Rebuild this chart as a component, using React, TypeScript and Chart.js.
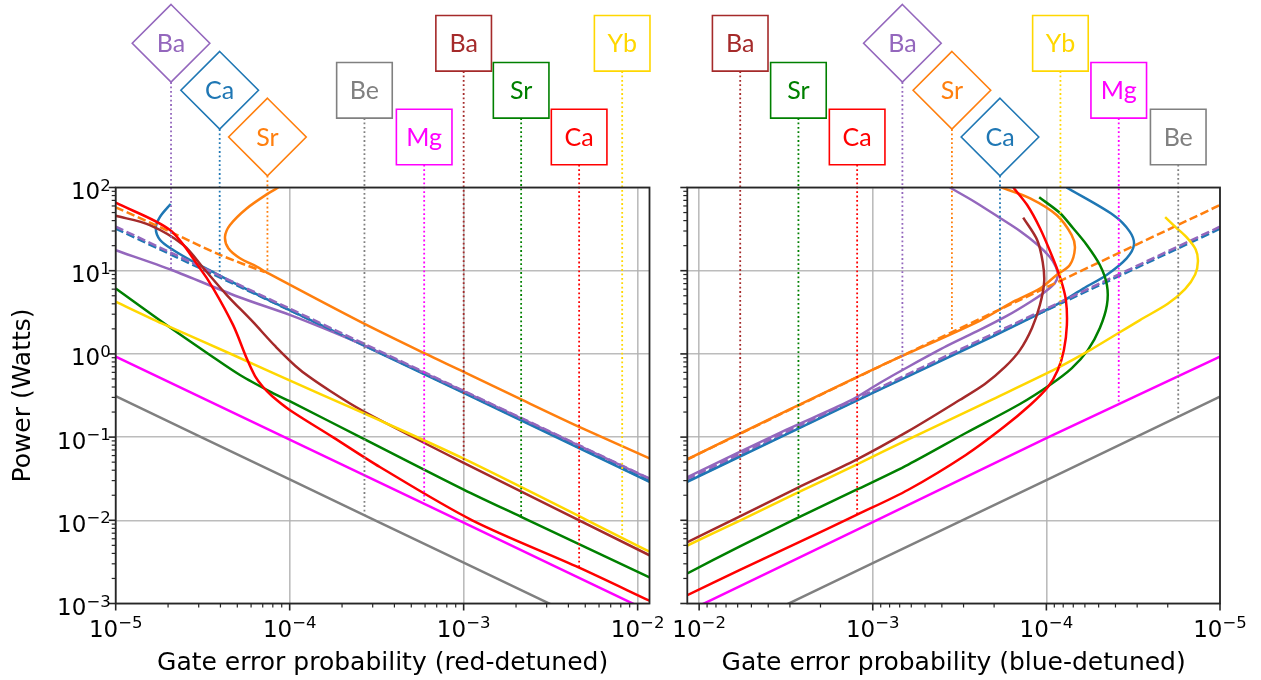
import React, { useEffect, useRef } from 'react';
import { Chart, registerables } from 'chart.js';

Chart.register(...registerables);
Chart.defaults.font.family = "'DejaVu Sans', sans-serif";

type Pt = [number, number];

// ---------- axes ----------
const X_MIN = 1e-5;
const X_MAX = 1.17e-2;
const Y_MIN = 1e-3;
const Y_MAX = 1e2;
const X_TICK_EXPONENTS = [-5, -4, -3, -2];
const Y_TICK_EXPONENTS = [-3, -2, -1, 0, 1, 2];

// ---------- red-detuned (left) series: [gate error, power W] ----------
const RED_BE: Pt[] = [[1e-5, 0.31], [1e-4, 0.031], [1e-3, 0.0031], [1.17e-2, 0.000265]];
const RED_MG: Pt[] = [[1e-5, 0.925], [1e-4, 0.093], [1e-3, 0.0094], [1.17e-2, 0.0008]];
const RED_SR_SQ: Pt[] = [[1e-5, 6.1], [1.96e-5, 2.22], [3.48e-5, 0.97], [5.18e-5, 0.557], [8.05e-5, 0.336], [1e-4, 0.27], [2.7e-4, 0.094], [1e-3, 0.0234], [2.14e-3, 0.011], [1.17e-2, 0.00206]];
const RED_YB: Pt[] = [[1e-5, 4.24], [1.84e-5, 2.33], [4.74e-5, 0.97], [8.8e-5, 0.54], [2.64e-4, 0.195], [1e-3, 0.055], [1.17e-2, 0.0042]];
const RED_BA_SQ: Pt[] = [[1e-5, 45.8], [1.57e-5, 35.4], [2.45e-5, 20.4], [3.26e-5, 10.2], [4.35e-5, 5.1], [6.15e-5, 2.42], [8.24e-5, 1.245], [1.15e-4, 0.64], [1.71e-4, 0.358], [2.64e-4, 0.206], [1e-3, 0.049], [1.17e-2, 0.0038]];
const RED_CA_SQ: Pt[] = [[1e-5, 65.6], [2.05e-5, 30.8], [3.05e-5, 10.7], [3.64e-5, 6.1], [4.74e-5, 2.2], [5.66e-5, 0.885], [6.32e-5, 0.542], [7.03e-5, 0.4], [7.91e-5, 0.312], [1e-4, 0.212], [1.77e-4, 0.1], [3.3e-4, 0.0437], [1.12e-3, 0.01], [4.61e-3, 0.0027], [1.17e-2, 0.00108]];
const RED_BA_DI: Pt[] = [[1e-5, 17.6], [2.1e-5, 10.2], [5e-5, 4.9], [1e-4, 2.95], [1.6e-4, 2.0], [2.6e-4, 1.3], [1e-3, 0.355], [1.17e-2, 0.0315]];
const RED_BA_DASH: Pt[] = [[1e-5, 33.8], [1e-4, 3.5], [1e-3, 0.36], [1.17e-2, 0.0318]];
const RED_CA_DASH: Pt[] = [[1e-5, 32.0], [1e-4, 3.35], [1e-3, 0.345], [1.17e-2, 0.0295]];
const RED_CA_DI: Pt[] = [[2.07e-5, 63.4], [1.8e-5, 44.6], [1.7e-5, 32.4], [1.8e-5, 23.4], [2.14e-5, 17.7], [2.79e-5, 12.8], [3.48e-5, 10.1], [4.5e-5, 7.6], [1e-4, 3.35], [1e-3, 0.34], [1.17e-2, 0.029]];
const RED_SR_DI: Pt[] = [[8.6e-5, 100], [7.53e-5, 85], [5.66e-5, 56], [4.54e-5, 35.4], [4.25e-5, 25.6], [4.44e-5, 18.6], [5.18e-5, 14.1], [6.46e-5, 11.2], [7.53e-5, 9.3], [2.54e-4, 2.44], [5.93e-4, 1.02], [1e-3, 0.61], [2.14e-3, 0.284], [4.61e-3, 0.133], [1.17e-2, 0.0556]];
const RED_SR_DASH: Pt[] = [[1e-5, 57.8], [2.05e-5, 29.5], [3.98e-5, 15.5], [7.2e-5, 9.6]];

// ---------- blue-detuned (right) series ----------
const BLUE_BE: Pt[] = [[1.17e-2, 0.00026], [1e-3, 0.00305], [1e-4, 0.0305], [1e-5, 0.306]];
const BLUE_MG: Pt[] = [[1.17e-2, 0.0008], [1e-3, 0.0095], [1e-4, 0.097], [1e-5, 0.925]];
const BLUE_CA_SQ: Pt[] = [[1.17e-2, 0.00126], [5.86e-3, 0.00252], [2.73e-3, 0.0053], [1.24e-3, 0.0116], [6.24e-4, 0.0233], [2.91e-4, 0.061], [1.76e-4, 0.132], [1.24e-4, 0.243], [9.8e-5, 0.4], [8.59e-5, 0.641], [7.93e-5, 1.11], [7.62e-5, 2.22], [7.72e-5, 4.45], [8.24e-5, 7.73], [9.18e-5, 14.2], [1.09e-4, 32.6], [1.29e-4, 61.6], [1.55e-4, 100]];
const BLUE_SR_SQ: Pt[] = [[1.17e-2, 0.0023], [5.86e-3, 0.00483], [2.73e-3, 0.0106], [1.24e-3, 0.0233], [6.24e-4, 0.0468], [2.91e-4, 0.112], [1.42e-4, 0.25], [9.55e-5, 0.423], [7.13e-5, 0.676], [5.77e-5, 1.11], [4.92e-5, 2.05], [4.48e-5, 3.87], [4.48e-5, 6.73], [4.92e-5, 11.7], [5.85e-5, 20.4], [7.03e-5, 32.6], [8.36e-5, 49.4], [1.1e-4, 76.2]];
const BLUE_YB: Pt[] = [[1.17e-2, 0.00497], [5.86e-3, 0.00986], [2.73e-3, 0.0213], [1.24e-3, 0.0468], [6.24e-4, 0.0937], [2.04e-4, 0.285], [8.73e-5, 0.67], [5.61e-5, 1.11], [2.89e-5, 2.55], [2.0e-5, 4.0], [1.59e-5, 6.0], [1.39e-5, 9.0], [1.34e-5, 13], [1.38e-5, 18], [1.55e-5, 25], [1.79e-5, 33], [2.07e-5, 44]];
const BLUE_BA_SQ: Pt[] = [[1.17e-2, 0.00545], [5.86e-3, 0.0111], [2.73e-3, 0.0244], [1.24e-3, 0.0537], [6.24e-4, 0.118], [3.16e-4, 0.279], [2.26e-4, 0.435], [1.73e-4, 0.697], [1.42e-4, 1.11], [1.21e-4, 2.05], [1.09e-4, 3.87], [1.03e-4, 7.3], [1.05e-4, 12.7], [1.13e-4, 23.4], [1.36e-4, 43.4]];
const BLUE_BA_DI: Pt[] = [[1.17e-2, 0.033], [3.16e-3, 0.122], [1.36e-3, 0.272], [9.12e-4, 0.447], [6.12e-4, 0.715], [3.74e-4, 1.245], [2.42e-4, 1.94], [1.69e-4, 2.86], [1.24e-4, 4.21], [1.02e-4, 5.55], [8.93e-5, 7.1], [8.59e-5, 8.87], [8.81e-5, 11.1], [9.55e-5, 14.6], [1.12e-4, 20.4], [1.42e-4, 30], [1.85e-4, 43], [2.58e-4, 67], [3.6e-4, 100]];
const BLUE_BA_DASH: Pt[] = [[1.17e-2, 0.0315], [1e-3, 0.36], [1e-4, 3.5], [1e-5, 33.8]];
const BLUE_CA_DASH: Pt[] = [[1.17e-2, 0.0295], [1e-3, 0.345], [1e-4, 3.35], [1e-5, 32.0]];
const BLUE_CA_DI: Pt[] = [[1.17e-2, 0.029], [1e-3, 0.34], [2e-4, 1.65], [8.36e-5, 4.1], [6.13e-5, 6.1], [4.5e-5, 8.9], [3.45e-5, 14.1], [3.13e-5, 20.4], [3.31e-5, 29.5], [4.12e-5, 46.7], [7.66e-5, 100]];
const BLUE_SR_DI: Pt[] = [[1.17e-2, 0.054], [3.16e-3, 0.205], [9.12e-4, 0.71], [2.42e-4, 2.5], [1.55e-4, 4.25], [1.09e-4, 6.1], [8.73e-5, 8.9], [7.33e-5, 11.7], [6.85e-5, 18.6], [7.16e-5, 26.9], [8.73e-5, 46.7], [1.24e-4, 74], [1.81e-4, 100]];
const BLUE_SR_DASH: Pt[] = [[1.17e-2, 0.054], [1e-3, 0.645], [1e-4, 6.3], [1e-5, 61.6]];

// ---------- annotation labels ----------
const LEFT_LABELS = ['Ba', 'Ca', 'Sr', 'Be', 'Mg', 'Ba', 'Sr', 'Ca', 'Yb'];
const LEFT_LABEL_EPS = [2.08e-5, 3.96e-5, 7.45e-5, 2.69e-4, 5.93e-4, 1.0e-3, 2.14e-3, 4.61e-3, 8.15e-3];
const LEFT_LABEL_P = [10.5, 8.8, 9.1, 0.0116, 0.0156, 0.049, 0.011, 0.0027, 0.0063];
const LEFT_LABEL_SHAPE = ['diamond', 'diamond', 'diamond', 'square', 'square', 'square', 'square', 'square', 'square'];
const LEFT_LABEL_ROW = [0, 1, 2, 1, 2, 0, 1, 2, 0];

const RIGHT_LABELS = ['Ba', 'Sr', 'Ca', 'Ba', 'Sr', 'Ca', 'Yb', 'Mg', 'Be'];
const RIGHT_LABEL_EPS = [5.8e-3, 2.68e-3, 1.23e-3, 6.75e-4, 3.5e-4, 1.85e-4, 8.3e-5, 3.83e-5, 1.74e-5];
const RIGHT_LABEL_P = [0.011, 0.0106, 0.0116, 0.64, 1.9, 2.0, 0.7, 0.245, 0.178];
const RIGHT_LABEL_SHAPE = ['square', 'square', 'square', 'diamond', 'diamond', 'diamond', 'square', 'square', 'square'];
const RIGHT_LABEL_ROW = [0, 1, 2, 0, 1, 2, 0, 1, 2];

// ---------- styles / layout ----------
const COLORS: Record<string, string> = {
  Be: '#808080', Mg: '#ff00ff', BaSq: '#a52a2a', SrSq: '#008000', CaSq: '#ff0000', Yb: '#ffd700',
  BaDi: '#9467bd', CaDi: '#1f77b4', SrDi: '#ff7f0e',
};
const LEFT_LABEL_COLORS = [COLORS.BaDi, COLORS.CaDi, COLORS.SrDi, COLORS.Be, COLORS.Mg, COLORS.BaSq, COLORS.SrSq, COLORS.CaSq, COLORS.Yb];
const RIGHT_LABEL_COLORS = [COLORS.BaSq, COLORS.SrSq, COLORS.CaSq, COLORS.BaDi, COLORS.SrDi, COLORS.CaDi, COLORS.Yb, COLORS.Mg, COLORS.Be];

const W = 1261;
const H = 680;
const PLOT_TOP = 187.5;
const X_AXIS_H = 76.5;
const ROW_Y = [43.3, 90.3, 137];
const SQ_R = 27.8;
const DIA_R = 38.8;
const GRID = 'rgba(176,176,176,0.85)';
const FONT = 25;
const TICK_FONT = 23;
const SUP_FONT = 16.5;
const SUP_RAISE = 8.5;

const isDecade = (v: number) => Math.abs(Math.log10(v) - Math.round(Math.log10(v))) < 1e-6;

function logTicks(min: number, max: number) {
  const out: { value: number; major: boolean }[] = [];
  for (let e = Math.floor(Math.log10(min)); e <= Math.ceil(Math.log10(max)); e++) {
    for (let m = 1; m <= 9; m++) {
      const v = m * Math.pow(10, e);
      if (v >= min * 0.999999 && v <= max * 1.000001) out.push({ value: v, major: m === 1 });
    }
  }
  return out;
}

function drawPow(ctx: CanvasRenderingContext2D, x: number, y: number, e: number, align: 'center' | 'right') {
  const main = '10';
  const sup = (e < 0 ? '\u2212' : '') + Math.abs(e);
  const mf = `${TICK_FONT}px 'DejaVu Sans', sans-serif`;
  const sf = `${SUP_FONT}px 'DejaVu Sans', sans-serif`;
  ctx.font = mf;
  const w1 = ctx.measureText(main).width;
  ctx.font = sf;
  const w2 = ctx.measureText(sup).width;
  const start = align === 'center' ? x - (w1 + w2) / 2 : x - (w1 + w2);
  ctx.textAlign = 'left';
  ctx.textBaseline = 'alphabetic';
  ctx.fillStyle = '#000';
  ctx.font = mf;
  ctx.fillText(main, start, y);
  ctx.font = sf;
  ctx.fillText(sup, start + w1, y - SUP_RAISE);
}

type Series = { pts: Pt[]; color: string; dashed?: boolean };

type Panel = {
  series: Series[];
  plotLeft: number;
  plotRight: number;
  reverse: boolean;
  xTitle: string;
  showY: boolean;
  labels: string[];
  eps: number[];
  pw: number[];
  shapes: string[];
  rows: number[];
  colors: string[];
};

function overlayPlugin(p: Panel) {
  return {
    id: 'overlay',
    afterDatasetsDraw(chart: any) {
      const { ctx, scales } = chart;
      ctx.save();
      for (let i = 0; i < p.labels.length; i++) {
        const px = scales.x.getPixelForValue(p.eps[i]);
        const py = scales.y.getPixelForValue(p.pw[i]);
        const cy = ROW_Y[p.rows[i]];
        const dia = p.shapes[i] === 'diamond';
        const bot = cy + (dia ? DIA_R : SQ_R);
        ctx.strokeStyle = p.colors[i];
        ctx.lineWidth = 1.8;
        ctx.setLineDash([1.8, 2.6]);
        ctx.beginPath();
        ctx.moveTo(px, bot);
        ctx.lineTo(px, py);
        ctx.stroke();
        ctx.setLineDash([]);
        ctx.lineWidth = 1.6;
        ctx.fillStyle = '#ffffff';
        ctx.beginPath();
        if (dia) {
          ctx.moveTo(px, cy - DIA_R);
          ctx.lineTo(px + DIA_R, cy);
          ctx.lineTo(px, cy + DIA_R);
          ctx.lineTo(px - DIA_R, cy);
          ctx.closePath();
        } else {
          ctx.rect(px - SQ_R, cy - SQ_R, 2 * SQ_R, 2 * SQ_R);
        }
        ctx.fill();
        ctx.stroke();
        ctx.fillStyle = p.colors[i];
        ctx.font = "25px Lato, 'Open Sans', sans-serif";
        ctx.textAlign = 'center';
        ctx.textBaseline = 'alphabetic';
        ctx.fillText(p.labels[i], px, cy + 9);
      }
      ctx.restore();
    },
    afterDraw(chart: any) {
      const { ctx, chartArea, scales } = chart;
      const { left, right, top, bottom } = chartArea;
      ctx.save();
      ctx.strokeStyle = '#262626';
      for (const t of scales.x.ticks) {
        const px = scales.x.getPixelForValue(t.value);
        const major = isDecade(t.value);
        ctx.lineWidth = major ? 1.6 : 1.2;
        ctx.beginPath();
        ctx.moveTo(px, bottom);
        ctx.lineTo(px, bottom + (major ? 7 : 4));
        ctx.stroke();
      }
      for (const t of scales.y.ticks) {
        const py = scales.y.getPixelForValue(t.value);
        const major = isDecade(t.value);
        ctx.lineWidth = major ? 1.6 : 1.2;
        ctx.beginPath();
        ctx.moveTo(left, py);
        ctx.lineTo(left - (major ? 7 : 4), py);
        ctx.stroke();
      }
      ctx.lineWidth = 1.8;
      ctx.strokeRect(left, top, right - left, bottom - top);
      // tick labels (10 with superscript exponent)
      for (const e of X_TICK_EXPONENTS) {
        drawPow(ctx, scales.x.getPixelForValue(Math.pow(10, e)), bottom + 33, e, 'center');
      }
      if (p.showY) {
        for (const e of Y_TICK_EXPONENTS) {
          drawPow(ctx, left - 5, scales.y.getPixelForValue(Math.pow(10, e)) + 11.5, e, 'right');
        }
      }
      ctx.restore();
    },
  };
}

function makeChart(canvas: HTMLCanvasElement, p: Panel) {
  const gridColor = (c: any) => (c.tick && isDecade(c.tick.value) ? GRID : 'rgba(0,0,0,0)');
  return new Chart(canvas, {
    type: 'line',
    data: {
      datasets: p.series.map((s) => ({
        data: s.pts.map(([x, y]) => ({ x, y })),
        borderColor: s.color,
        borderWidth: 2.5,
        borderDash: s.dashed ? [8.5, 3.6] : [],
        pointRadius: 0,
        pointHoverRadius: 0,
        fill: false,
        tension: 0.3,
      })),
    },
    options: {
      responsive: false,
      maintainAspectRatio: false,
      animation: false,
      events: [],
      layout: { padding: { left: 0, top: PLOT_TOP, right: W - p.plotRight, bottom: 0 } },
      elements: { line: { capBezierPoints: false, borderCapStyle: 'butt', borderJoinStyle: 'round' } },
      plugins: { legend: { display: false }, tooltip: { enabled: false } },
      scales: {
        x: {
          type: 'logarithmic',
          min: X_MIN,
          max: X_MAX,
          reverse: p.reverse,
          afterBuildTicks: (s: any) => { s.ticks = logTicks(X_MIN, X_MAX); },
          afterFit: (s: any) => { s.height = X_AXIS_H; s.paddingLeft = 0; s.paddingRight = 0; },
          grid: { color: gridColor, lineWidth: 1.6, drawTicks: false },
          border: { display: false },
          ticks: { display: false, autoSkip: false, maxRotation: 0, minRotation: 0 },
          title: { display: true, text: p.xTitle, color: '#000', font: { size: FONT }, padding: { top: 0, bottom: 2 } },
        },
        y: {
          type: 'logarithmic',
          min: Y_MIN,
          max: Y_MAX,
          afterBuildTicks: (s: any) => { s.ticks = logTicks(Y_MIN, Y_MAX); },
          afterFit: (s: any) => { s.width = p.plotLeft; s.paddingTop = 0; s.paddingBottom = 0; },
          grid: { color: gridColor, lineWidth: 1.6, drawTicks: false },
          border: { display: false },
          ticks: { display: false, autoSkip: false },
          title: { display: p.showY, text: 'Power (Watts)', color: '#000', font: { size: FONT }, padding: { top: 8, bottom: 0 } },
        },
      },
    } as any,
    plugins: [overlayPlugin(p) as any],
  });
}

const LEFT_PANEL: Panel = {
  series: [
    { pts: RED_CA_SQ, color: COLORS.CaSq },
    { pts: RED_YB, color: COLORS.Yb },
    { pts: RED_SR_SQ, color: COLORS.SrSq },
    { pts: RED_BA_SQ, color: COLORS.BaSq },
    { pts: RED_MG, color: COLORS.Mg },
    { pts: RED_BE, color: COLORS.Be },
    { pts: RED_BA_DASH, color: COLORS.BaDi, dashed: true },
    { pts: RED_CA_DASH, color: COLORS.CaDi, dashed: true },
    { pts: RED_SR_DASH, color: COLORS.SrDi, dashed: true },
    { pts: RED_SR_DI, color: COLORS.SrDi },
    { pts: RED_BA_DI, color: COLORS.BaDi },
    { pts: RED_CA_DI, color: COLORS.CaDi },
  ],
  plotLeft: 115.7,
  plotRight: 649.5,
  reverse: false,
  xTitle: 'Gate error probability (red-detuned)',
  showY: true,
  labels: LEFT_LABELS,
  eps: LEFT_LABEL_EPS,
  pw: LEFT_LABEL_P,
  shapes: LEFT_LABEL_SHAPE,
  rows: LEFT_LABEL_ROW,
  colors: LEFT_LABEL_COLORS,
};

const RIGHT_PANEL: Panel = {
  series: [
    { pts: BLUE_CA_SQ, color: COLORS.CaSq },
    { pts: BLUE_YB, color: COLORS.Yb },
    { pts: BLUE_SR_SQ, color: COLORS.SrSq },
    { pts: BLUE_BA_SQ, color: COLORS.BaSq },
    { pts: BLUE_MG, color: COLORS.Mg },
    { pts: BLUE_BE, color: COLORS.Be },
    { pts: BLUE_BA_DASH, color: COLORS.BaDi, dashed: true },
    { pts: BLUE_CA_DASH, color: COLORS.CaDi, dashed: true },
    { pts: BLUE_SR_DASH, color: COLORS.SrDi, dashed: true },
    { pts: BLUE_SR_DI, color: COLORS.SrDi },
    { pts: BLUE_BA_DI, color: COLORS.BaDi },
    { pts: BLUE_CA_DI, color: COLORS.CaDi },
  ],
  plotLeft: 687.3,
  plotRight: 1220,
  reverse: true,
  xTitle: 'Gate error probability (blue-detuned)',
  showY: false,
  labels: RIGHT_LABELS,
  eps: RIGHT_LABEL_EPS,
  pw: RIGHT_LABEL_P,
  shapes: RIGHT_LABEL_SHAPE,
  rows: RIGHT_LABEL_ROW,
  colors: RIGHT_LABEL_COLORS,
};

export default function App() {
  const leftRef = useRef<HTMLCanvasElement>(null);
  const rightRef = useRef<HTMLCanvasElement>(null);
  useEffect(() => {
    const charts = [makeChart(leftRef.current!, LEFT_PANEL), makeChart(rightRef.current!, RIGHT_PANEL)];
    return () => charts.forEach((c) => c.destroy());
  }, []);
  const cs: React.CSSProperties = { position: 'absolute', left: 0, top: 0, width: W, height: H };
  return (
    <div style={{ position: 'fixed', left: 0, top: 0, width: W, height: H, background: '#ffffff' }}>
      <canvas ref={leftRef} width={W} height={H} style={cs} />
      <canvas ref={rightRef} width={W} height={H} style={cs} />
    </div>
  );
}
